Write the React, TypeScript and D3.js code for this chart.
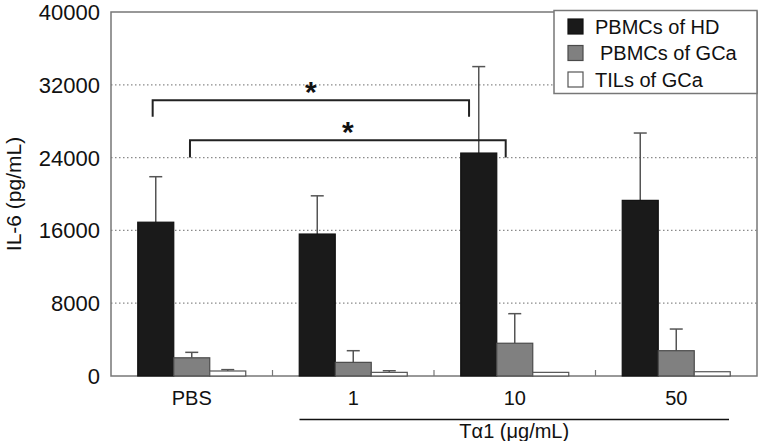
import React from "react";
import * as d3 from "d3";

const groups = ["PBS", "1", "10", "50"];
const seriesNames = ["PBMCs of HD", "PBMCs of GCa", "TILs of GCa"];
const seriesFill = ["#1a1a1a", "#808080", "#ffffff"];
const seriesStroke = ["#111111", "#4a4a4a", "#555555"];
const hdValues = [16900, 15600, 24500, 19300];
const hdErrors = [5000, 4200, 9500, 7400];
const gcaValues = [2000, 1500, 3600, 2780];
const gcaErrors = [600, 1280, 3250, 2380];
const tilValues = [550, 400, 400, 470];
const tilErrors = [150, 180, 0, 0];
const yTicks = [0, 8000, 16000, 24000, 32000, 40000];
const gridTicks = [8000, 16000, 24000, 32000];
// significance brackets: [group, offset within band (0..1)] for ends, value for bar & legs
const bracketStart = [[0, 0.258], [0, 0.489]];
const bracketEnd = [[2, 0.217], [2, 0.444]];
const bracketTop = [30300, 25900];
const bracketLeg = [28500, 24000];

const W = 763, H = 441;
const left = 111, right = 757, top = 12, bottom = 376;

export default function App() {
  const x = d3.scaleBand<string>().domain(groups).range([left, right]).padding(0);
  const y = d3.scaleLinear().domain([0, 40000]).range([bottom, top]);
  const barW = 36;
  const values = [hdValues, gcaValues, tilValues];
  const errors = [hdErrors, gcaErrors, tilErrors];
  const font = "'Liberation Sans', Arial, Helvetica, sans-serif";
  const bw = x.bandwidth();
  const axisColor = "#777";

  return (
    <svg width={W} height={H} style={{ position: "absolute", left: 0, top: 0, background: "#fff" }} fontFamily={font}>
      {/* gridlines */}
      {gridTicks.map((t) => (
        <line key={t} x1={left} x2={right} y1={y(t)} y2={y(t)} stroke="#8a8a8a" strokeWidth={1.2} strokeDasharray="1.5,2.5" />
      ))}
      {/* frame */}
      <rect x={left} y={top} width={right - left} height={bottom - top} fill="none" stroke={axisColor} strokeWidth={1.5} />
      {/* bottom ticks at group boundaries */}
      {groups.slice(1).map((g) => (
        <line key={g} x1={x(g)!} x2={x(g)!} y1={bottom} y2={bottom - 6} stroke={axisColor} strokeWidth={1.2} />
      ))}
      {/* y tick labels */}
      {yTicks.map((t) => (
        <text key={t} x={left - 11} y={y(t)} dy="0.36em" textAnchor="end" fontSize={22} fill="#111">{t}</text>
      ))}
      <text transform={`translate(21,${(top + bottom) / 2}) rotate(-90)`} textAnchor="middle" fontSize={21} fill="#111">IL-6 (pg/mL)</text>
      {/* bars */}
      {values.map((vals, si) =>
        groups.map((g, gi) => {
          const bx = x(g)! + bw / 2 - (3 * barW) / 2 + si * barW;
          const v = vals[gi];
          const e = errors[si][gi];
          const cx = bx + barW / 2;
          return (
            <g key={`${si}-${gi}`}>
              {e > 0 && (
                <g stroke="#555" strokeWidth={1.5}>
                  <line x1={cx} x2={cx} y1={y(v)} y2={y(v + e)} />
                  <line x1={cx - 6.5} x2={cx + 6.5} y1={y(v + e)} y2={y(v + e)} />
                </g>
              )}
              <rect x={bx} y={y(v)} width={barW} height={bottom - y(v)} fill={seriesFill[si]} stroke={seriesStroke[si]} strokeWidth={1.2} />
            </g>
          );
        })
      )}
      {/* brackets */}
      {bracketTop.map((bt, i) => {
        const x1 = x(groups[bracketStart[i][0]])! + bracketStart[i][1] * bw;
        const x2 = x(groups[bracketEnd[i][0]])! + bracketEnd[i][1] * bw;
        return (
          <g key={i}>
            <path d={`M${x1},${y(bracketLeg[i])}V${y(bt)}H${x2}V${y(bracketLeg[i])}`} fill="none" stroke="#222" strokeWidth={2} />
            <text x={(x1 + x2) / 2} y={y(bt) + 2} textAnchor="middle" fontSize={30} fontWeight="bold" fill="#111">*</text>
          </g>
        );
      })}
      {/* x labels */}
      {groups.map((g) => (
        <text key={g} x={x(g)! + bw / 2} y={405} textAnchor="middle" fontSize={20} fill="#111">{g}</text>
      ))}
      <line x1={x("1")! + 27} x2={x("50")! + bw - 28} y1={419.5} y2={419.5} stroke="#111" strokeWidth={1.5} />
      <text x={(x("1")! + 27 + x("50")! + bw - 28) / 2} y={438} textAnchor="middle" fontSize={20} fill="#111">Tα1 (μg/mL)</text>
      {/* legend */}
      <rect x={554} y={10.5} width={203} height={83} fill="#fff" stroke={axisColor} strokeWidth={1.5} />
      {seriesNames.map((n, i) => (
        <g key={n}>
          <rect x={568} y={19 + i * 26.5} width={15} height={15} fill={seriesFill[i]} stroke={seriesStroke[i]} strokeWidth={1.2} />
          <text x={i === 1 ? 600 : 595} y={26.5 + i * 26.5} dy="0.36em" fontSize={20} fill="#111">{n}</text>
        </g>
      ))}
    </svg>
  );
}
